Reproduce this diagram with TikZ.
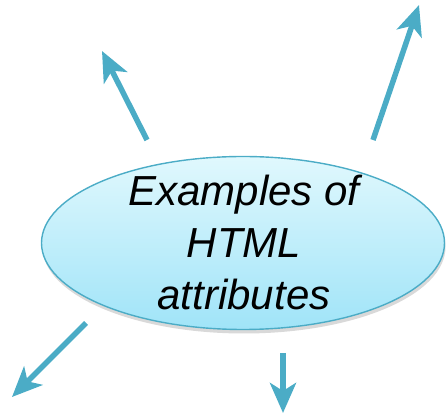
\documentclass[tikz,border=0pt]{standalone}
\usepackage{fontspec}
\setmainfont{Liberation Sans}
\usetikzlibrary{arrows.meta,shapes.geometric,shadows,shadings}
\definecolor{teal1}{RGB}{75,172,198}
\definecolor{topc}{RGB}{224,248,253}
\definecolor{botc}{RGB}{160,228,248}
\tikzset{
  px/.style={x=1pt,y=1pt},
  bubble/.style={ellipse, draw=teal1, line width=1.4pt, minimum width=403pt, minimum height=173pt,
    top color=topc, bottom color=botc, inner sep=0pt,
    drop shadow={shadow xshift=1pt, shadow yshift=-4pt, opacity=0.25, fill=black!60}},
  arr/.style={draw=teal1, line width=5.5pt, -{Stealth[length=30pt,width=26pt,inset=8pt]}},
}
\begin{document}
\begin{tikzpicture}[px]
\useasboundingbox (0,0) rectangle (447,414);
\node[bubble] (e) at (243,171) {};
\node[align=center, font=\fontsize{42}{52}\selectfont\itshape] (t) at (244,172) {Examples of\\HTML\\attributes};
\coordinate (a1s) at (147,274);
\coordinate (a1e) at (102,363);
\coordinate (a2s) at (373,274);
\coordinate (a2e) at (419,409);
\coordinate (a3s) at (86,91);
\coordinate (a3e) at (12,17);
\coordinate (a4s) at (283,61);
\coordinate (a4e) at (283,1);
\draw[arr] (a1s) -- (a1e);
\draw[arr] (a2s) -- (a2e);
\draw[arr] (a3s) -- (a3e);
\draw[arr] (a4s) -- (a4e);
\end{tikzpicture}
\end{document}
